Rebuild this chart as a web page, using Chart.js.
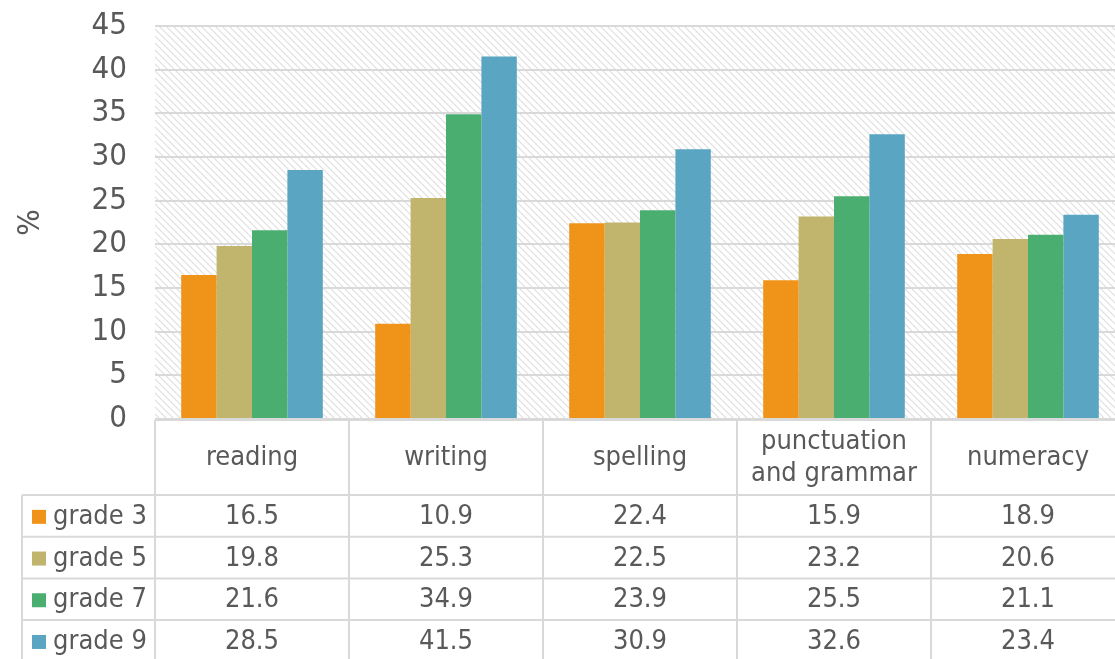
<!DOCTYPE html>
<html>
<head>
<meta charset="utf-8">
<script src="https://cdn.jsdelivr.net/npm/chart.js@4.4.1/dist/chart.umd.min.js"></script>
<style>
  html, body { margin: 0; padding: 0; background: #fff; overflow: hidden; }
  #wrap { position: relative; width: 1125px; height: 659px; }
</style>
</head>
<body>
<div id="wrap"><canvas id="c"></canvas></div>
<script>
const categories = ['reading', 'writing', 'spelling', ['punctuation', 'and grammar'], 'numeracy'];
const seriesNames = ['grade 3', 'grade 5', 'grade 7', 'grade 9'];
const grade3 = [16.5, 10.9, 22.4, 15.9, 18.9];
const grade5 = [19.8, 25.3, 22.5, 23.2, 20.6];
const grade7 = [21.6, 34.9, 23.9, 25.5, 21.1];
const grade9 = [28.5, 41.5, 30.9, 32.6, 23.4];
const seriesColors = ['#EF9419', '#C1B46C', '#4BAE71', '#5AA6C2'];
const yTicks = [0, 5, 10, 15, 20, 25, 30, 35, 40, 45];

const FONT = "'DejaVu Sans Condensed', 'DejaVu Sans', sans-serif";
const TEXT = '#595959';
const LINE = '#d9d9d9';

function makeHatch() {
  const s = 7;
  const p = document.createElement('canvas');
  p.width = s; p.height = s;
  const g = p.getContext('2d');
  g.fillStyle = '#ffffff';
  g.fillRect(0, 0, s, s);
  g.strokeStyle = '#dedede';
  g.lineWidth = 1.1;
  g.beginPath();
  g.moveTo(-1, -1); g.lineTo(s + 1, s + 1);
  g.moveTo(-1, s - 1); g.lineTo(1, s + 1);
  g.moveTo(s - 1, -1); g.lineTo(s + 1, 1);
  g.stroke();
  return p;
}

const hatchPlugin = {
  id: 'hatch',
  beforeDraw(chart) {
    const { ctx, chartArea: a } = chart;
    ctx.save();
    ctx.fillStyle = ctx.createPattern(makeHatch(), 'repeat');
    ctx.fillRect(a.left, a.top, a.right - a.left, a.bottom - a.top);
    ctx.restore();
  }
};

const tablePlugin = {
  id: 'dataTable',
  afterDraw(chart) {
    const { ctx, chartArea: a } = chart;
    const xs = chart.scales.x;
    const n = categories.length;
    const cw = (a.right - a.left) / n;
    const top = a.bottom + 1;
    const headerBottom = 495;
    const rowH = 41.7;
    const legendLeft = 22;
    const values = [grade3, grade5, grade7, grade9];
    ctx.save();
    ctx.strokeStyle = LINE;
    ctx.lineWidth = 2;
    ctx.beginPath();
    ctx.moveTo(a.left, top); ctx.lineTo(a.right, top);
    for (let r = 0; r <= values.length; r++) {
      const y = headerBottom + r * rowH;
      ctx.moveTo(legendLeft, y); ctx.lineTo(a.right, y);
    }
    const bottom = headerBottom + values.length * rowH;
    ctx.moveTo(legendLeft, headerBottom); ctx.lineTo(legendLeft, bottom);
    for (let i = 0; i <= n; i++) {
      const x = a.left + i * cw;
      ctx.moveTo(x, top); ctx.lineTo(x, bottom);
    }
    ctx.stroke();

    ctx.fillStyle = TEXT;
    ctx.textAlign = 'center';
    ctx.textBaseline = 'middle';
    ctx.font = '27px ' + FONT;
    const hMid = (top + headerBottom) / 2;
    categories.forEach((c, i) => {
      const x = xs.getPixelForValue(i);
      if (Array.isArray(c)) {
        ctx.fillText(c[0], x, hMid - 16);
        ctx.fillText(c[1], x, hMid + 16);
      } else {
        ctx.fillText(c, x, hMid);
      }
    });
    values.forEach((vals, r) => {
      const yMid = headerBottom + r * rowH + rowH / 2 + 1;
      vals.forEach((v, i) => {
        ctx.fillText(v.toFixed(1), xs.getPixelForValue(i), yMid);
      });
      ctx.fillStyle = seriesColors[r];
      ctx.fillRect(32, yMid - 7, 14, 14);
      ctx.fillStyle = TEXT;
      ctx.textAlign = 'left';
      ctx.fillText(seriesNames[r], 53, yMid);
      ctx.textAlign = 'center';
    });
    ctx.restore();
  }
};

const datasets = [grade3, grade5, grade7, grade9].map((d, i) => ({
  label: seriesNames[i],
  data: d,
  backgroundColor: seriesColors[i],
  borderWidth: 0,
  categoryPercentage: 0.73,
  barPercentage: 1.0
}));

new Chart(document.getElementById('c'), {
  type: 'bar',
  data: { labels: categories, datasets },
  plugins: [hatchPlugin, tablePlugin],
  options: {
    responsive: true,
    maintainAspectRatio: false,
    animation: false,
    layout: { padding: { top: 26, bottom: 240, left: 0, right: 0 } },
    plugins: { legend: { display: false }, tooltip: { enabled: false } },
    scales: {
      x: { display: false, offset: true },
      y: {
        min: 0, max: 45,
        afterBuildTicks(scale) { scale.ticks = yTicks.map(v => ({ value: v })); },
        afterFit(scale) { scale.width = 155; scale.paddingTop = 0; scale.paddingBottom = 0; },
        border: { display: false },
        grid: { color: LINE, lineWidth: 2, drawTicks: false },
        ticks: { color: TEXT, font: { family: FONT, size: 31 }, padding: 28 },
        title: { display: true, text: '%', color: TEXT, font: { family: FONT, size: 31 }, padding: { top: 12, bottom: 0 } }
      }
    }
  }
});
</script>
</body>
</html>
